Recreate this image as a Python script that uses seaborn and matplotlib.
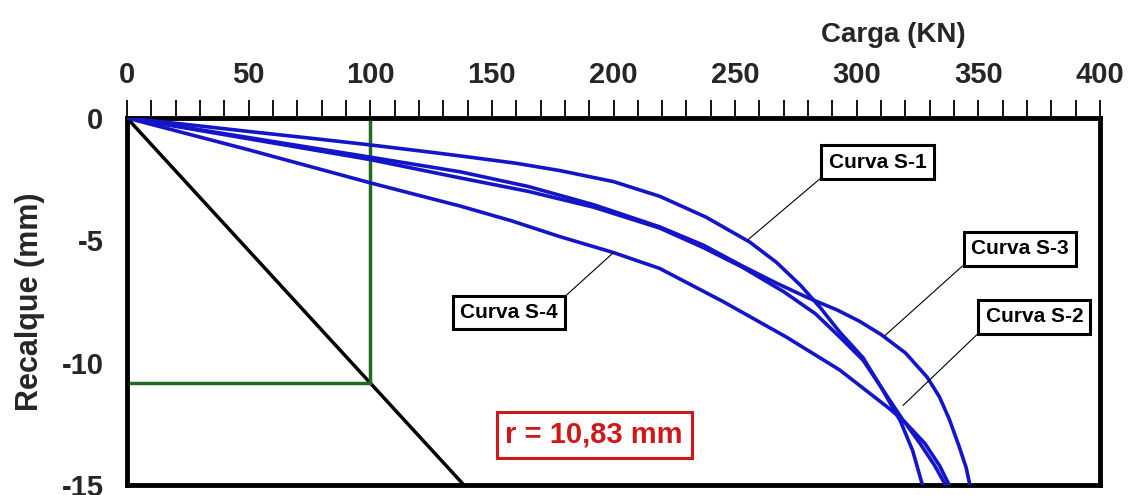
import matplotlib
matplotlib.use("Agg")
import matplotlib.pyplot as plt
from matplotlib import font_manager
from matplotlib.ticker import MultipleLocator
import seaborn as sns
import pandas as pd

# Load-settlement curves (carga in kN, recalque in mm)
s1_carga = [0, 25, 50, 75, 100, 125, 137, 160, 178, 200, 219, 238, 256, 267, 277,
            285, 293, 302.6, 310, 318, 323, 327]
s1_recalque = [0, -0.27, -0.55, -0.82, -1.1, -1.4, -1.55, -1.85, -2.15, -2.6, -3.2,
               -4.05, -5.07, -5.9, -6.85, -7.75, -8.75, -9.8, -11.0, -12.4, -13.6, -15.0]

s2_carga = [0, 50, 100, 137, 165, 192, 219, 237, 253, 270, 283, 293, 302.6, 310,
            318, 326, 332, 336.5]
s2_recalque = [0, -0.85, -1.7, -2.45, -3.0, -3.65, -4.5, -5.3, -6.1, -7.1, -8.0,
               -8.95, -9.9, -11.0, -12.2, -13.3, -14.2, -15.0]

s3_carga = [0, 50, 100, 137, 165, 192, 219, 237, 253, 267, 280, 292, 301, 310,
            320, 329, 334, 338, 342, 345, 346.5]
s3_recalque = [0, -0.8, -1.6, -2.2, -2.8, -3.55, -4.45, -5.2, -6.05, -6.75, -7.35,
               -7.85, -8.3, -8.85, -9.6, -10.6, -11.4, -12.3, -13.4, -14.3, -15.0]

s4_carga = [0, 50, 100, 137, 158, 178, 200, 219, 245, 271, 293, 313.7, 320, 328,
            334, 338]
s4_recalque = [0, -1.3, -2.65, -3.6, -4.2, -4.85, -5.5, -6.15, -7.5, -8.95, -10.3,
               -11.9, -12.45, -13.3, -14.2, -15.0]

curve_names = ["Curva S-1", "Curva S-2", "Curva S-3", "Curva S-4"]

# Reference construction: r = 10,83 mm at 100 kN
carga_ref = 100
recalque_ref = -10.83
rigidez_carga = [0, 138.5]
rigidez_recalque = [0, -15.0]

x_ticks = [0, 50, 100, 150, 200, 250, 300, 350, 400]
y_ticks = [0, -5, -10, -15]

frames = []
for name, xs, ys in zip(curve_names,
                        [s1_carga, s2_carga, s3_carga, s4_carga],
                        [s1_recalque, s2_recalque, s3_recalque, s4_recalque]):
    frames.append(pd.DataFrame({"carga": xs, "recalque": ys, "curva": name}))
df = pd.concat(frames, ignore_index=True)

sns.set_theme(style="white")
available = {f.name for f in font_manager.fontManager.ttflist}
base = "Liberation Sans Narrow" if "Liberation Sans Narrow" in available else "Liberation Sans"
plt.rcParams["font.family"] = [base, "DejaVu Sans"]
plt.rcParams["axes.unicode_minus"] = False

fig = plt.figure(figsize=(11.32, 4.95), dpi=100)
ax = fig.add_axes([127 / 1132, 1 - 485 / 495, (1100 - 127) / 1132, (485 - 118) / 495])

blue = "#1414c8"
green = "#1f6b1f"

sns.lineplot(data=df, x="carga", y="recalque", units="curva", estimator=None,
             sort=False, color=blue, lw=2.6, ax=ax, zorder=3,
             solid_joinstyle="round", solid_capstyle="round")

sns.lineplot(x=rigidez_carga, y=rigidez_recalque, color="black", lw=2.5,
             ax=ax, sort=False, zorder=2)
ax.plot([carga_ref, carga_ref], [0, recalque_ref], color=green, lw=2.5, zorder=2)
ax.plot([0, carga_ref], [recalque_ref, recalque_ref], color=green, lw=2.5, zorder=2)

ax.set_xlim(0, 400)
ax.set_ylim(-15, 0)

ax.xaxis.set_ticks_position("top")
ax.xaxis.set_label_position("top")
ax.set_xticks(x_ticks)
ax.set_yticks(y_ticks)
ax.xaxis.set_minor_locator(MultipleLocator(10))
ax.yaxis.set_minor_locator(MultipleLocator(1))
ax.tick_params(axis="x", which="both", direction="out", length=13, width=1.3,
               color="black", pad=8, labelsize=21)
ax.tick_params(axis="y", which="both", direction="out", length=11, width=1.3,
               color="black", pad=6, labelsize=21)
for lab in ax.get_xticklabels() + ax.get_yticklabels():
    lab.set_fontweight("bold")

for sp in ax.spines.values():
    sp.set_visible(True)
    sp.set_color("black")
    sp.set_linewidth(3.5)
ax.grid(False)

ax.set_xlabel("")
ax.set_ylabel("Recalque (mm)", fontsize=22, fontweight="bold", labelpad=12)
fig.text(893 / 1132, 1 - 35 / 495, "Carga (KN)", ha="center", va="center",
         fontsize=20, fontweight="bold")

box = dict(boxstyle="square,pad=0.35", fc="white", ec="black", lw=2.2)

# label position, leader target, box corner that the leader leaves from
labels = [
    ("Curva S-1", (308.5, -1.8), (255, -5.0), (0, 0)),
    ("Curva S-3", (367, -5.35), (311.5, -8.9), (0, 0)),
    ("Curva S-2", (373, -8.13), (319, -11.75), (0, 0)),
    ("Curva S-4", (157, -7.95), (200, -5.5), (1, 1)),
]
for text, pos, target, rel in labels:
    ax.annotate(text, xy=target, xytext=pos, ha="center", va="center",
                fontsize=15, fontweight="bold", color="black", bbox=box, zorder=5,
                arrowprops=dict(arrowstyle="-", color="black", lw=0.8,
                                shrinkA=0, shrinkB=0, relpos=rel))

ax.text(192, -12.95, "r = 10,83 mm", ha="center", va="center", fontsize=21,
        fontweight="bold", color="#d01818", zorder=5,
        bbox=dict(boxstyle="square,pad=0.3", fc="white", ec="#d01818", lw=2.2))

fig.savefig("out.png", dpi=100)
